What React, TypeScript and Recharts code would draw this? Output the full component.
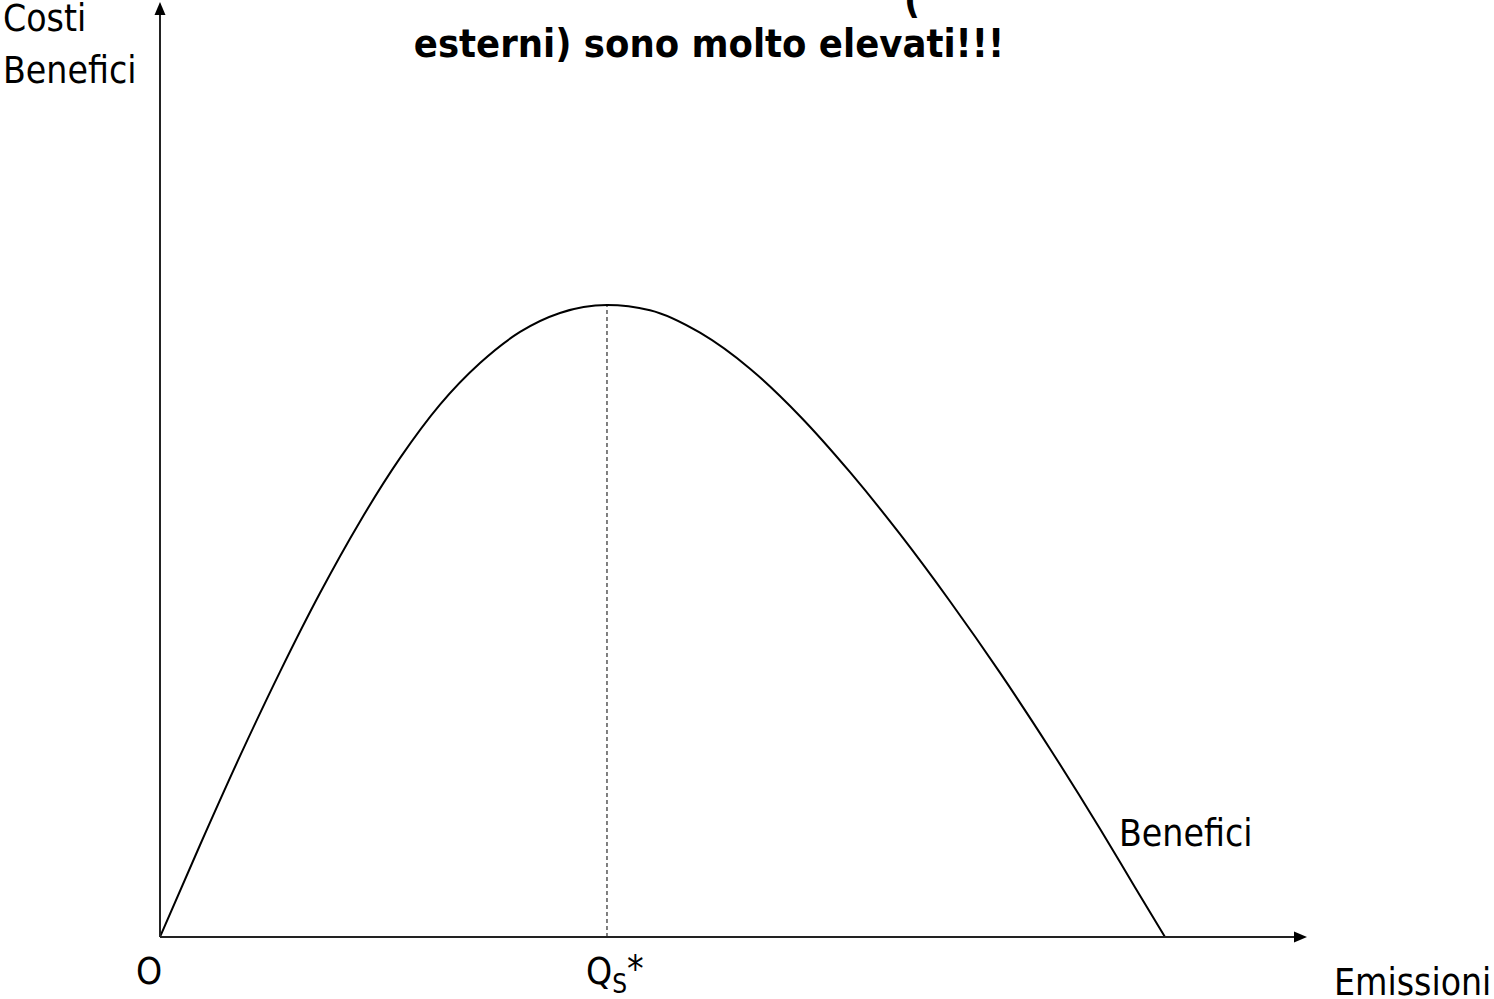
import React from "react";
import { LineChart, Line, XAxis, YAxis, ReferenceLine } from "recharts";

// curve: x = emissions, y = benefits (0..100 both axes)
const emissioni = [
  0, 3.49, 6.97, 10.46, 13.95, 17.44, 20.92, 24.41, 27.9, 31.39, 34.87, 38.97,
  42.72, 47.08, 51.44, 55.8, 60.16, 64.52, 68.87, 73.23, 77.59, 81.95, 85.0, 87.62,
];
const benefici = [
  0, 9.84, 19.34, 28.36, 36.79, 44.45, 51.21, 56.94, 61.39, 64.71, 66.74, 67.59,
  67.04, 64.63, 60.78, 55.7, 49.71, 43.08, 35.91, 28.27, 20.14, 11.58, 5.33, 0,
];
const qStar = 38.97;
const qStarBenefit = 67.59;

const data = emissioni.map((x, i) => ({ x, b: benefici[i] }));

const W = 1494;
const H = 999;
const FONT = "'DejaVu Sans Condensed', 'DejaVu Sans', sans-serif";
const AXIS = "#222";

const Arrow = (props: any) => {
  const { x1, y1, x2, y2 } = props;
  const ang = Math.atan2(y2 - y1, x2 - x1);
  const len = 13;
  const half = 5.5;
  const bx = x2 - len * Math.cos(ang);
  const by = y2 - len * Math.sin(ang);
  const px = -Math.sin(ang) * half;
  const py = Math.cos(ang) * half;
  return (
    <g>
      <line x1={x1} y1={y1} x2={bx} y2={by} stroke={AXIS} strokeWidth={2} />
      <polygon
        points={`${x2},${y2} ${bx + px},${by + py} ${bx - px},${by - py}`}
        fill="#000"
      />
    </g>
  );
};

export default function App() {
  return (
    <div style={{ position: "absolute", left: 0, top: 0, width: W, height: H, background: "#fff" }}>
      <LineChart
        width={W}
        height={H}
        data={data}
        margin={{ top: 2, right: 187, bottom: 62, left: 160 }}
      >
        <XAxis type="number" dataKey="x" domain={[0, 100]} hide />
        <YAxis type="number" domain={[0, 100]} hide />
        <ReferenceLine
          segment={[{ x: qStar, y: 0 }, { x: qStar, y: qStarBenefit }]}
          stroke="#000"
          strokeWidth={1}
          strokeDasharray="4 3"
        />
        <Line
          type="monotone"
          dataKey="b"
          stroke="#000"
          strokeWidth={2}
          dot={false}
          isAnimationActive={false}
        />
        <ReferenceLine segment={[{ x: 0, y: 0 }, { x: 100, y: 0 }]} shape={Arrow} />
        <ReferenceLine segment={[{ x: 0, y: 0 }, { x: 0, y: 100 }]} shape={Arrow} />
      </LineChart>
      <svg
        width={W}
        height={H}
        style={{ position: "absolute", left: 0, top: 0, pointerEvents: "none" }}
        fontFamily={FONT}
        fontSize={37}
        fill="#000"
      >
        <text x={904} y={13} fontWeight="bold" fontSize={39}>(</text>
        <text x={709} y={57} textAnchor="middle" fontWeight="bold" fontSize={39.5}>
          esterni) sono molto elevati!!!
        </text>
        <text x={3} y={31}>Costi</text>
        <text x={3} y={83}>Benefici</text>
        <text x={1119} y={846}>Benefici</text>
        <text x={136} y={984}>O</text>
        <text x={586} y={984}>
          Q<tspan fontSize={26} dy={9}>S</tspan>
          <tspan dy={-11}>*</tspan>
        </text>
        <text x={1334} y={995}>Emissioni</text>
      </svg>
    </div>
  );
}
